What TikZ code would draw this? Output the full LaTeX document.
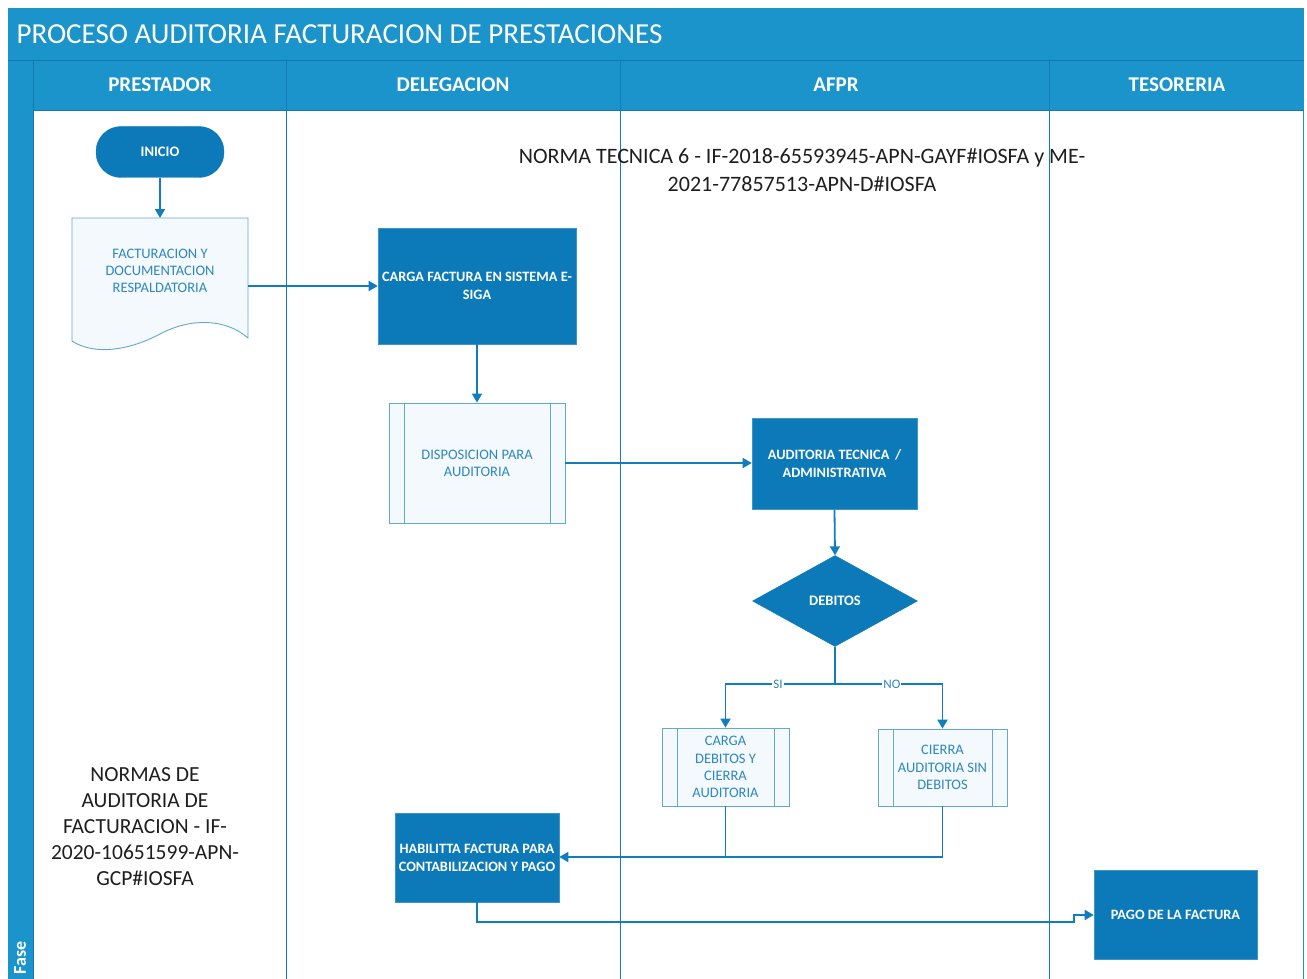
\documentclass[tikz,border=0pt]{standalone}
\usepackage{fontspec}
\setmainfont{Carlito}
\usetikzlibrary{shapes.geometric,arrows.meta,calc}
\definecolor{hdr}{RGB}{26,148,203}
\definecolor{hdrline}{RGB}{20,120,175}
\definecolor{boxc}{RGB}{12,122,184}
\definecolor{linec}{RGB}{18,125,188}
\definecolor{lightfill}{RGB}{244,249,253}
\definecolor{lightborder}{RGB}{100,168,205}
\definecolor{lighttext}{RGB}{45,135,192}
\definecolor{normtext}{RGB}{30,30,30}
\tikzset{
  darkbox/.style={draw=boxc!80!white, line width=0.6pt, fill=boxc, text=white, font=\fontsize{14.3}{18}\selectfont\bfseries, align=center, inner sep=2pt},
  procbox/.style={draw=lightborder, line width=0.8pt, fill=lightfill, text=lighttext, font=\fontsize{14.5}{17.3}\selectfont, align=center, inner sep=2pt,
    path picture={\draw[lightborder, line width=0.8pt] ([xshift=15pt]path picture bounding box.north west) -- ([xshift=15pt]path picture bounding box.south west)
      ([xshift=-15pt]path picture bounding box.north east) -- ([xshift=-15pt]path picture bounding box.south east);}},
  flow/.style={linec, line width=1.8pt, -{Triangle[length=9pt,width=10pt]}},
  flowplain/.style={linec, line width=1.8pt},
  lanehdr/.style={text=white, font=\fontsize{21}{24}\selectfont\bfseries},
  edgelbl/.style={fill=white, inner sep=1pt, text=lighttext, font=\fontsize{13}{14}\selectfont}
}
\begin{document}
\begin{tikzpicture}[x=1pt,y=-1pt]
\useasboundingbox (0,0) rectangle (1307,979);
\fill[white] (0,0) rectangle (1307,979);
% frame
\fill[hdr] (8,8) rectangle (1304,979);
\fill[white] (33,110) rectangle (1303,979);
\draw[hdrline, line width=0.6pt] (8,60) -- (1304,60);
\draw[hdrline, line width=0.6pt] (33,60) -- (33,979);
\draw[hdrline, line width=0.6pt] (33,110) -- (1304,110);
\node[anchor=west, text=white, font=\fontsize{29}{32}\selectfont] (title) at (13,34) {PROCESO AUDITORIA FACTURACION DE PRESTACIONES};
% lanes
\foreach \xx in {286,620,1049} {\draw[linec, line width=0.8pt] (\xx,60) -- (\xx,979);}
\node[lanehdr] (h1) at (160,85) {PRESTADOR};
\node[lanehdr] (h2) at (453,85) {DELEGACION};
\node[lanehdr] (h3) at (836,85) {AFPR};
\node[lanehdr] (h4) at (1177,85) {TESORERIA};
\node[rotate=90, text=white, font=\fontsize{18}{20}\selectfont\bfseries] (fase) at (20,958) {Fase};
% norm texts
\node[text=normtext, font=\fontsize{22}{28}\selectfont, align=center] (norma) at (802,170) {NORMA TECNICA 6 - IF-2018-65593945-APN-GAYF\#IOSFA y ME-\\2021-77857513-APN-D\#IOSFA};
\node[text=normtext, font=\fontsize{21.5}{26}\selectfont, align=center] (normas) at (145,827) {NORMAS DE\\AUDITORIA DE\\FACTURACION - IF-\\2020-10651599-APN-\\GCP\#IOSFA};
% nodes
\node[rounded corners=25pt, fill=boxc, draw=boxc, minimum width=128pt, minimum height=51pt, text=white, font=\fontsize{14.5}{18}\selectfont\bfseries] (inicio) at (160,152) {INICIO};
\draw[lightborder, line width=0.9pt, fill=lightfill] (72,218) -- (248,218) -- (248,338)
  .. controls (225,318) and (190,318) .. (160,334)
  .. controls (130,350) and (95,356) .. (72,341) -- cycle;
\node[text=lighttext, font=\fontsize{14.5}{17}\selectfont, align=center] (doc) at (160,271) {FACTURACION Y\\DOCUMENTACION\\RESPALDATORIA};
\coordinate (docR) at (248,286);
\node[darkbox, minimum width=198pt, minimum height=116pt] (carga) at (477,286) {CARGA FACTURA EN SISTEMA E-\\SIGA};
\node[procbox, minimum width=176pt, minimum height=120pt] (disp) at (477,463) {DISPOSICION PARA\\AUDITORIA};
\node[darkbox, minimum width=165pt, minimum height=91pt] (audit) at (834.5,463.5) {AUDITORIA TECNICA \,/\\ADMINISTRATIVA};
\node[diamond, aspect=1.8, fill=boxc, draw=boxc, inner sep=0pt, minimum width=165pt, minimum height=91pt, text=white, font=\fontsize{14.5}{18}\selectfont\bfseries] (deb) at (835,601) {DEBITOS};
\node[procbox, minimum width=127pt, minimum height=78pt] (cdeb) at (725.5,767) {CARGA\\DEBITOS Y\\CIERRA\\AUDITORIA};
\node[procbox, minimum width=129pt, minimum height=77pt] (cierra) at (942.5,767.5) {CIERRA\\AUDITORIA SIN\\DEBITOS};
\node[darkbox, minimum width=164pt, minimum height=89pt] (habil) at (477,857.5) {HABILITTA FACTURA PARA\\CONTABILIZACION Y PAGO};
\node[darkbox, minimum width=163pt, minimum height=89pt] (pago) at (1175.5,914.5) {PAGO DE LA FACTURA};
% edges
\draw[flow] (inicio.south) -- (160,218);
\draw[flow] (docR) -- (carga.west |- docR);
\draw[flow] (carga.south) -- (disp.north);
\draw[flow] (disp.east) -- (audit.west |- disp.east);
\draw[flow] (audit.south) -- (deb.north);
\coordinate (split) at (835,684);
\draw[flowplain] (deb.south) -- (split);
\draw[flow] (split) -- (cdeb.north |- split) node[edgelbl, pos=0.52] {SI} -- (cdeb.north);
\draw[flow] (split) -- (cierra.north |- split) node[edgelbl, pos=0.53] {NO} -- (cierra.north);
\coordinate (join) at (942.5,857);
\draw[flowplain] (cierra.south) -- (join) -- (cdeb.south |- join);
\draw[flow] (cdeb.south) -- (cdeb.south |- join) -- (habil.east |- join);
\coordinate (jogA) at (1074,922);
\coordinate (jogB) at (1074,915);
\draw[flow] (habil.south) -- (habil.south |- jogA) -- (jogA) -- (jogB) -- (pago.west |- jogB);
\end{tikzpicture}
\end{document}
